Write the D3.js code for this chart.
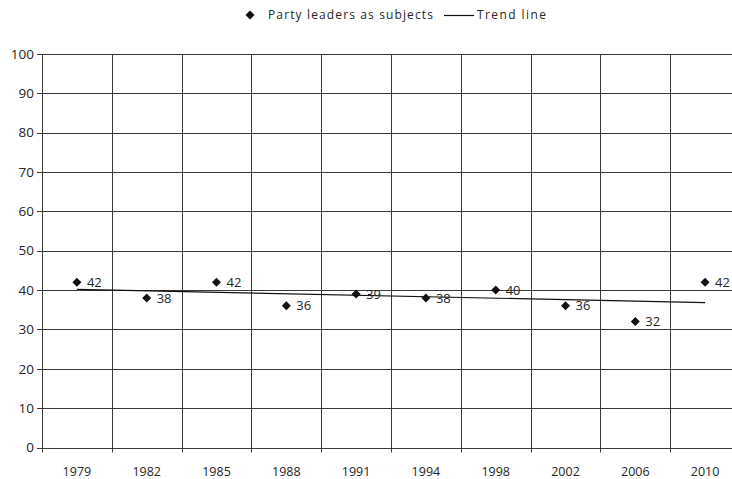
<!DOCTYPE html>
<html>
<head>
<meta charset="utf-8">
<script src="https://cdn.jsdelivr.net/npm/d3@7"></script>
<style>
  html, body { margin: 0; padding: 0; background: #fff; overflow: hidden; }
  svg { display: block; font-family: "Open Sans", "Noto Sans", sans-serif; }
</style>
</head>
<body>
<svg id="chart" width="732" height="479"></svg>
<script>
// Election years and share of stories with party leaders as subjects (%)
const years = ["1979", "1982", "1985", "1988", "1991", "1994", "1998", "2002", "2006", "2010"];
const leaderShare = [42, 38, 42, 36, 39, 38, 40, 36, 32, 42];
const yTicks = [0, 10, 20, 30, 40, 50, 60, 70, 80, 90, 100];
const seriesName = "Party leaders as subjects";
const trendName = "Trend line";

(function draw() {
  const svg = d3.select("#chart");
  const plotLeft = 42, plotRight = 740, plotTop = 54, plotBottom = 447.5;

  const x = d3.scaleBand().domain(years).range([plotLeft, plotRight]).padding(0);
  const y = d3.scaleLinear().domain([0, 100]).range([plotBottom, plotTop]);
  const cx = d => x(d) + x.bandwidth() / 2;
  const crisp = v => Math.round(v) + 0.5;

  const gridColor = "#3a3a3a";
  const textColor = "#262626";

  // horizontal gridlines
  svg.append("g").selectAll("line").data(yTicks).join("line")
    .attr("x1", plotLeft).attr("x2", plotRight)
    .attr("y1", d => crisp(y(d))).attr("y2", d => crisp(y(d)))
    .attr("stroke", gridColor).attr("stroke-width", 1);

  // vertical gridlines at category boundaries (with tick stubs below the axis)
  const bounds = years.map(d => x(d)).concat([plotRight]);
  svg.append("g").selectAll("line").data(bounds).join("line")
    .attr("x1", d => crisp(d)).attr("x2", d => crisp(d))
    .attr("y1", plotTop).attr("y2", plotBottom + 5)
    .attr("stroke", gridColor).attr("stroke-width", 1);

  // y-axis tick stubs
  svg.append("g").selectAll("line").data(yTicks).join("line")
    .attr("x1", plotLeft - 5).attr("x2", plotLeft)
    .attr("y1", d => crisp(y(d))).attr("y2", d => crisp(y(d)))
    .attr("stroke", gridColor);

  // y-axis labels
  svg.append("g").selectAll("text").data(yTicks).join("text")
    .attr("x", 34).attr("y", d => y(d))
    .attr("dy", "0.35em").attr("text-anchor", "end")
    .attr("font-size", 13.5).attr("fill", textColor)
    .text(d => d);

  // x-axis labels
  svg.append("g").selectAll("text").data(years).join("text")
    .attr("x", d => cx(d)).attr("y", 472)
    .attr("dy", "0.35em").attr("text-anchor", "middle")
    .attr("font-size", 12.5).attr("fill", textColor)
    .text(d => d);

  // least-squares trend line over the category index
  const n = leaderShare.length;
  const xs = d3.range(n);
  const mx = d3.mean(xs), my = d3.mean(leaderShare);
  const slope = d3.sum(xs, i => (i - mx) * (leaderShare[i] - my)) / d3.sum(xs, i => (i - mx) ** 2);
  const icpt = my - slope * mx;
  svg.append("line")
    .attr("x1", cx(years[0])).attr("y1", y(icpt))
    .attr("x2", cx(years[n - 1])).attr("y2", y(icpt + slope * (n - 1)))
    .attr("stroke", "#111").attr("stroke-width", 1.2);

  // diamond markers
  const diamond = d3.symbol().type(d3.symbolDiamond2).size(52);
  svg.append("g").selectAll("path").data(leaderShare).join("path")
    .attr("d", diamond)
    .attr("transform", (d, i) => `translate(${cx(years[i])},${y(d)})`)
    .attr("fill", "#111");

  // value labels
  svg.append("g").selectAll("text").data(leaderShare).join("text")
    .attr("x", (d, i) => cx(years[i]) + 10).attr("y", d => y(d))
    .attr("dy", "0.35em")
    .attr("font-size", 13).attr("fill", textColor)
    .text(d => d);

  // legend
  const lg = svg.append("g").attr("font-size", 12).attr("fill", textColor);
  lg.append("path").attr("d", diamond).attr("transform", "translate(250,15)").attr("fill", "#111");
  lg.append("text").attr("x", 268).attr("y", 15).attr("dy", "0.35em")
    .attr("textLength", 165).attr("lengthAdjust", "spacing").text(seriesName);
  lg.append("line").attr("x1", 444).attr("x2", 474).attr("y1", 15.5).attr("y2", 15.5)
    .attr("stroke", "#111").attr("stroke-width", 1.2);
  lg.append("text").attr("x", 477).attr("y", 15).attr("dy", "0.35em")
    .attr("textLength", 69).attr("lengthAdjust", "spacing").text(trendName);
})();
</script>
</body>
</html>
